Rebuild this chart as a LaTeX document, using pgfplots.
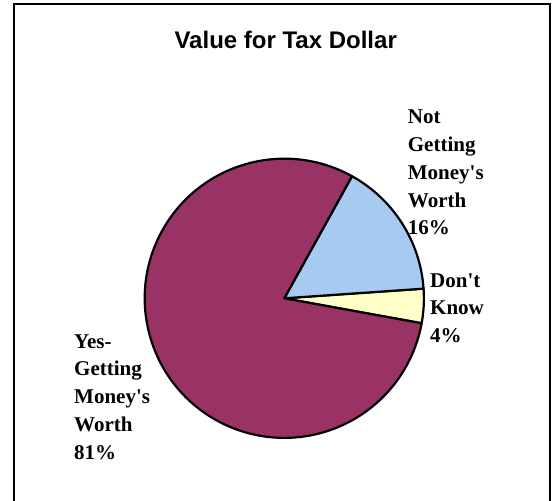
\documentclass[border=0pt]{standalone}
\usepackage{pgfplots}
\pgfplotsset{compat=1.18}
\usepackage{pgfplotstable}
\usepackage{fontspec}
\setmainfont{Liberation Serif}
\newfontfamily\titlefont{Liberation Sans}
\definecolor{slicepurple}{HTML}{993366}
\definecolor{sliceblue}{HTML}{A6CAF0}
\definecolor{sliceyellow}{HTML}{FFFFC8}
\pgfplotstableread{
label value
Yes 81
NotGetting 16
DontKnow 4
}\pietable
\begin{document}
\begin{tikzpicture}
\pgfplotstablegetelem{0}{value}\of\pietable\pgfmathsetmacro\vY{\pgfplotsretval}
\pgfplotstablegetelem{1}{value}\of\pietable\pgfmathsetmacro\vN{\pgfplotsretval}
\pgfplotstablegetelem{2}{value}\of\pietable\pgfmathsetmacro\vD{\pgfplotsretval}
\pgfmathsetmacro\tot{\vY+\vN+\vD}
\pgfmathsetmacro\aA{-10.3}
\pgfmathsetmacro\aB{\aA+360*\vD/\tot}
\pgfmathsetmacro\aC{\aB+360*\vN/\tot}
\pgfmathsetmacro\aE{\aA+360}
\begin{axis}[at={(0,0)}, anchor=origin, width=553pt, height=500pt, scale only axis,
  xmin=0, xmax=553, ymin=0, ymax=500, hide axis, clip=false]
\filldraw[fill=sliceyellow, draw=black, line width=2.2pt, line join=round]
  (axis cs:284.3,201.7) -- ++(\aA:139.6pt) arc[start angle=\aA, end angle=\aB, radius=139.6pt] -- cycle;
\filldraw[fill=sliceblue, draw=black, line width=2.2pt, line join=round]
  (axis cs:284.3,201.7) -- ++(\aB:139.6pt) arc[start angle=\aB, end angle=\aC, radius=139.6pt] -- cycle;
\filldraw[fill=slicepurple, draw=black, line width=2.2pt, line join=round]
  (axis cs:284.3,201.7) -- ++(\aC:139.6pt) arc[start angle=\aC, end angle=\aE, radius=139.6pt] -- cycle;
\node[anchor=base, inner sep=0pt, font=\titlefont\bfseries\fontsize{24}{28}\selectfont] at (axis cs:285.7,451.7) {Value for Tax Dollar};
\begin{scope}[every node/.style={anchor=base west, inner sep=0pt, font=\bfseries\fontsize{21}{25}\selectfont}]
\node at (axis cs:407.7,376.0) {Not};
\node at (axis cs:407.7,348.3) {Getting};
\node at (axis cs:407.7,320.6) {Money\textquotesingle s};
\node at (axis cs:407.7,292.9) {Worth};
\node at (axis cs:407.7,265.2) {16\%};
\node at (axis cs:430.0,212.7) {Don\textquotesingle t};
\node at (axis cs:430.0,185.1) {Know};
\node at (axis cs:430.0,157.5) {4\%};
\node at (axis cs:74.0,151.7) {Yes-};
\node at (axis cs:74.0,124.0) {Getting};
\node at (axis cs:74.0,96.4) {Money\textquotesingle s};
\node at (axis cs:74.0,68.7) {Worth};
\node at (axis cs:74.0,41.0) {81\%};
\end{scope}
\end{axis}
\draw[line width=2pt] (14.2pt,-10pt) rectangle (550.2pt,496pt);
\pgfresetboundingbox
\useasboundingbox (0,0) rectangle (553pt,500pt);
\end{tikzpicture}
\end{document}
